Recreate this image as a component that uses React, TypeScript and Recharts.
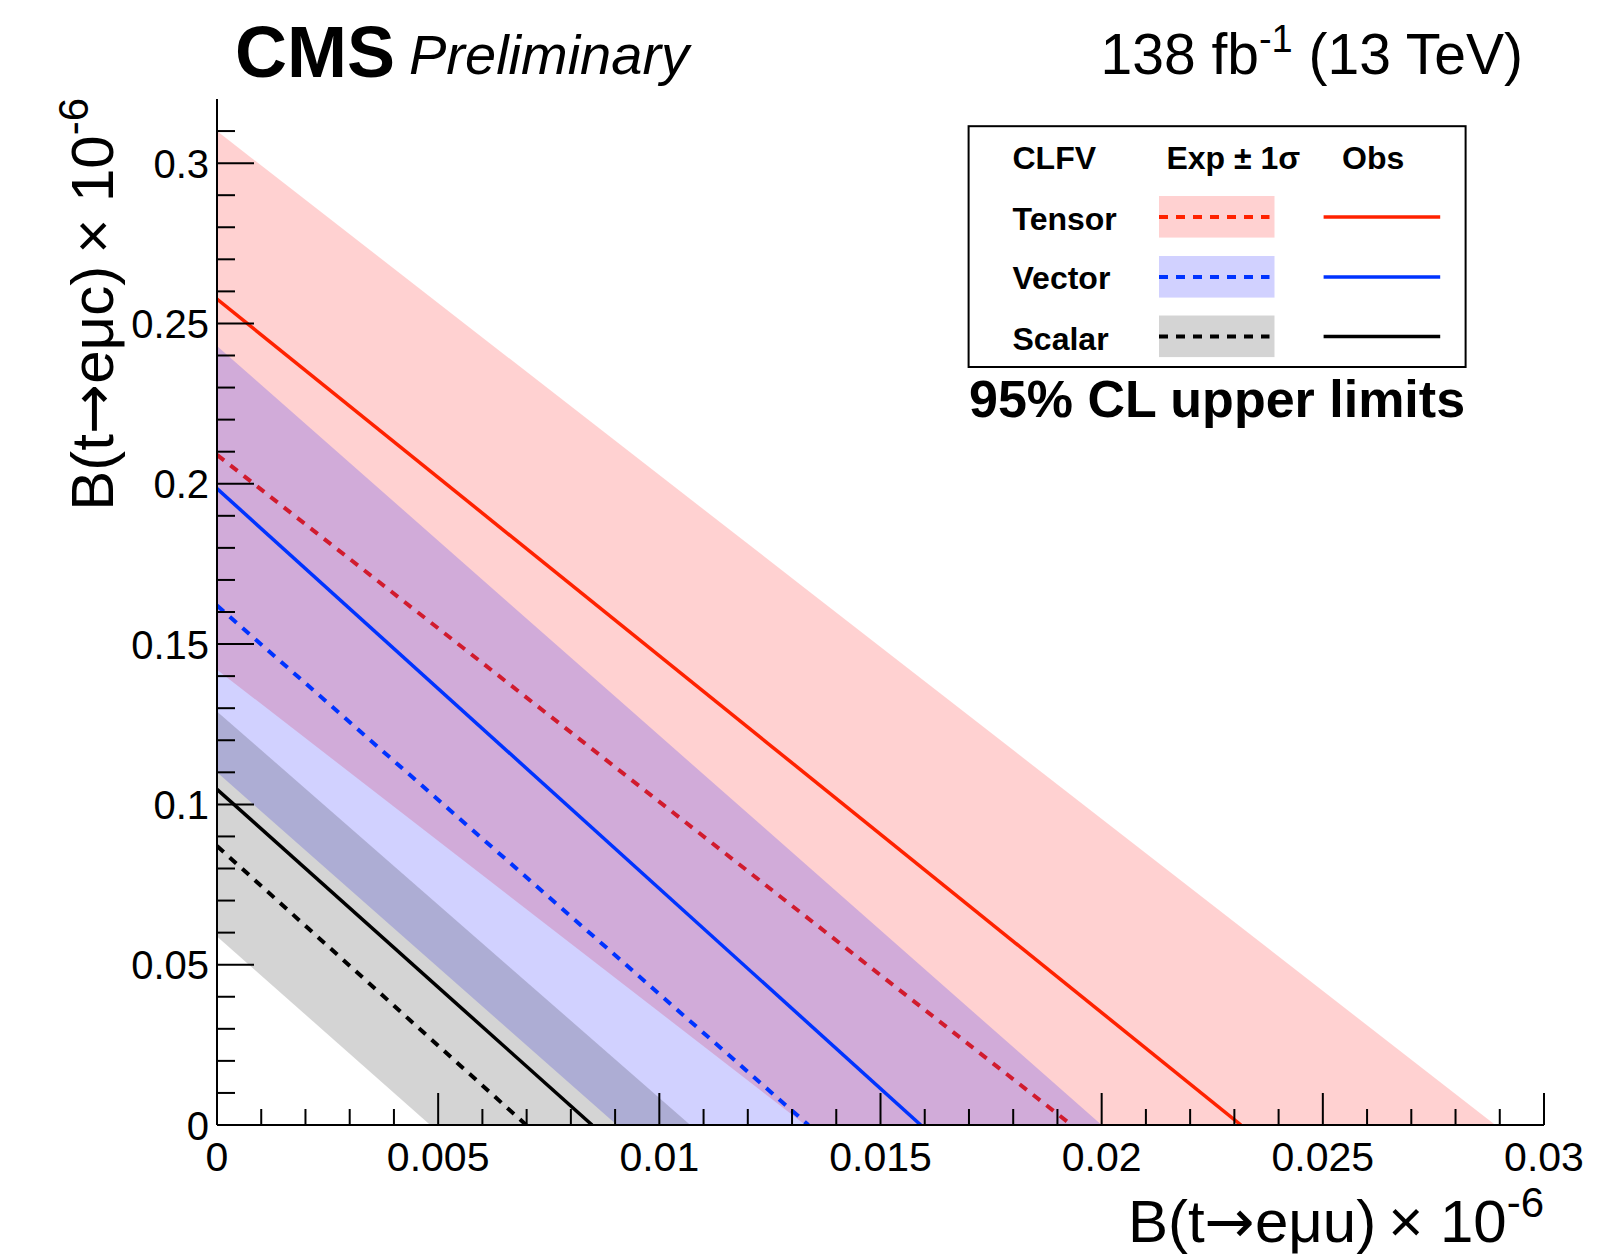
import React from 'react';
import { ComposedChart, Area, Line, XAxis, YAxis } from 'recharts';

const FONT = '"Liberation Sans", Arial, Helvetica, sans-serif';
const ARROW_FONT = '"DejaVu Sans", sans-serif';

const MODELS = ['Tensor', 'Vector', 'Scalar'];
const LINE_COLORS = ['#ff2200', '#0033ff', '#000000'];
const BAND_COLORS = ['#ff0000', '#0000ff', '#000000'];
const BAND_OPACITY = [0.18, 0.18, 0.17];

// each limit is a straight line from (0, B(t->emuc)) down to (B(t->emuu), 0)
const OBS_C = [0.2576, 0.1985, 0.1047];
const OBS_U = [0.02315, 0.01591, 0.00848];
const EXP_C = [0.209, 0.162, 0.087];
const EXP_U = [0.01932, 0.01337, 0.00699];
const UP_C = [0.31, 0.243, 0.129];
const UP_U = [0.0289, 0.02, 0.0107];
const DN_C = [0.142, 0.11, 0.0588];
const DN_U = [0.0133, 0.00904, 0.00482];

const X_MAJOR = [0, 0.005, 0.01, 0.015, 0.02, 0.025, 0.03];
const X_LABELS = ['0', '0.005', '0.01', '0.015', '0.02', '0.025', '0.03'];
const Y_MAJOR = [0, 0.05, 0.1, 0.15, 0.2, 0.25, 0.3];
const Y_LABELS = ['0', '0.05', '0.1', '0.15', '0.2', '0.25', '0.3'];

const X_TICKS = Array.from({ length: 31 }, (_, i) => +(i * 0.001).toFixed(3));
const Y_TICKS = Array.from({ length: 32 }, (_, i) => +(i * 0.01).toFixed(2));

const W = 1590;
const H = 1249;

// polygon of the +-1 sigma band: corners on both axes
const bandData = (i: number) => [
  { x: 0, y: [DN_C[i], UP_C[i]] },
  { x: DN_U[i], y: [0, UP_C[i] * (1 - DN_U[i] / UP_U[i])] },
  { x: UP_U[i], y: [0, 0] },
];
const lineData = (c: number, u: number) => [
  { x: 0, y: c },
  { x: u, y: 0 },
];

const findMajor = (list: number[], v: number) => list.findIndex((m) => Math.abs(m - v) < 1e-9);

const XTick = (props: any) => {
  const { x, y, payload } = props;
  const mi = findMajor(X_MAJOR, payload.value);
  const len = mi >= 0 ? 32 : 16;
  return (
    <g>
      <line x1={x} x2={x} y1={y} y2={y - len} stroke="#000" strokeWidth={2} />
      {mi >= 0 && (
        <text x={x} y={y + 46} textAnchor="middle" fontSize={41} fontFamily={FONT} fill="#000">
          {X_LABELS[mi]}
        </text>
      )}
    </g>
  );
};

const YTick = (props: any) => {
  const { x, y, payload } = props;
  const mi = findMajor(Y_MAJOR, payload.value);
  const len = mi >= 0 ? 37 : 18;
  return (
    <g>
      <line x1={x} x2={x + len} y1={y} y2={y} stroke="#000" strokeWidth={2} />
      {mi >= 0 && (
        <text x={x - 8} y={y + 14.5} textAnchor="end" fontSize={40} fontFamily={FONT} fill="#000">
          {Y_LABELS[mi]}
        </text>
      )}
    </g>
  );
};

const LEGEND_ROWS = [222, 281, 342];
const LEGEND_LINE_Y = [209, 269, 328.5];
const LEGEND_BOX_Y = [188, 248, 307.5];

const Overlay = () => (
  <svg width={W} height={H} style={{ position: 'absolute', left: 0, top: 0, pointerEvents: 'none' }} fontFamily={FONT}>
    <text x={227} y={69} fontSize={72} fontWeight="bold" fill="#000">CMS</text>
    <text x={401} y={66} fontSize={56} fontStyle="italic" fill="#000">Preliminary</text>
    <text x={1515} y={66} fontSize={57} textAnchor="end" fill="#000">
      138 fb<tspan dy={-22} fontSize={38}>-1</tspan>
      <tspan dy={22}> (13 TeV)</tspan>
    </text>

    <text x={1536} y={1234} fontSize={60} textAnchor="end" fill="#000">
      B(t<tspan fontFamily={ARROW_FONT}>→</tspan>eμu)&#8201;× 10<tspan dy={-25} fontSize={42}>-6</tspan>
    </text>
    <text transform="translate(105, 90) rotate(-90)" fontSize={60} textAnchor="end" fill="#000">
      B(t<tspan fontFamily={ARROW_FONT}>→</tspan>eμc)&#8201;× 10<tspan dy={-25} fontSize={42}>-6</tspan>
    </text>

    <rect x={960.6} y={118.2} width={497} height={240.8} fill="#fff" stroke="#000" strokeWidth={2} />
    <text x={1004.5} y={161} fontSize={32} fontWeight="bold" fill="#000">CLFV</text>
    <text x={1158.4} y={161} fontSize={32} fontWeight="bold" fill="#000">Exp ± 1σ</text>
    <text x={1334} y={161} fontSize={32} fontWeight="bold" fill="#000">Obs</text>
    {MODELS.map((m, i) => (
      <g key={m}>
        <text x={1004.5} y={LEGEND_ROWS[i]} fontSize={32} fontWeight="bold" fill="#000">{m}</text>
        <rect x={1151} y={LEGEND_BOX_Y[i]} width={115.5} height={41.6} fill={BAND_COLORS[i]} fillOpacity={BAND_OPACITY[i]} />
        <line x1={1151} x2={1261.5} y1={LEGEND_LINE_Y[i]} y2={LEGEND_LINE_Y[i]} stroke={LINE_COLORS[i]} strokeWidth={4} strokeDasharray="9 8" />
        <line x1={1315.6} x2={1432.2} y1={LEGEND_LINE_Y[i]} y2={LEGEND_LINE_Y[i]} stroke={LINE_COLORS[i]} strokeWidth={3.5} />
      </g>
    ))}
    <text x={961} y={409} fontSize={52} fontWeight="bold" fill="#000">95% CL upper limits</text>
  </svg>
);

export default function App() {
  return (
    <div style={{ position: 'relative', width: W, height: H }}>
      <ComposedChart width={W} height={H} margin={{ top: 91, right: 54, bottom: 0, left: 0 }}>
        <XAxis
          dataKey="x"
          type="number"
          domain={[0, 0.03]}
          ticks={X_TICKS}
          interval={0}
          allowDataOverflow
          height={132}
          tickSize={0}
          tickMargin={0}
          tickLine={false}
          tick={<XTick />}
          axisLine={{ stroke: '#000', strokeWidth: 2 }}
        />
        <XAxis
          xAxisId="top"
          orientation="top"
          type="number"
          domain={[0, 0.03]}
          height={0}
          tick={false}
          tickLine={false}
          axisLine={{ stroke: '#000', strokeWidth: 2 }}
        />
        <YAxis
          type="number"
          domain={[0, 0.32]}
          ticks={Y_TICKS}
          interval={0}
          allowDataOverflow
          width={209}
          tickSize={0}
          tickMargin={0}
          tickLine={false}
          tick={<YTick />}
          axisLine={{ stroke: '#000', strokeWidth: 2 }}
        />
        <YAxis
          yAxisId="right"
          orientation="right"
          type="number"
          domain={[0, 0.32]}
          width={0}
          tick={false}
          tickLine={false}
          axisLine={{ stroke: '#000', strokeWidth: 2 }}
        />
        {MODELS.map((m, i) => [
          <Area
            key={m + '-band'}
            data={bandData(i)}
            dataKey="y"
            type="linear"
            stroke="none"
            fill={BAND_COLORS[i]}
            fillOpacity={BAND_OPACITY[i]}
            isAnimationActive={false}
            dot={false}
            activeDot={false}
            zIndex={100 + i * 10}
          />,
          <Line
            key={m + '-exp'}
            data={lineData(EXP_C[i], EXP_U[i])}
            dataKey="y"
            type="linear"
            stroke={LINE_COLORS[i]}
            strokeWidth={4}
            strokeDasharray="9 8"
            dot={false}
            activeDot={false}
            isAnimationActive={false}
            zIndex={101 + i * 10}
          />,
          <Line
            key={m + '-obs'}
            data={lineData(OBS_C[i], OBS_U[i])}
            dataKey="y"
            type="linear"
            stroke={LINE_COLORS[i]}
            strokeWidth={3.5}
            dot={false}
            activeDot={false}
            isAnimationActive={false}
            zIndex={102 + i * 10}
          />,
        ])}
      </ComposedChart>
      <Overlay />
    </div>
  );
}
